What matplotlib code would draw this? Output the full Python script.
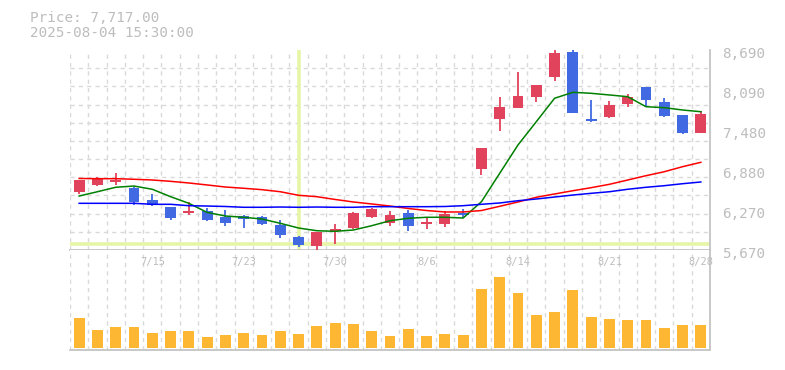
import matplotlib
matplotlib.use('Agg')
import matplotlib.pyplot as plt
import matplotlib.transforms as mtransforms
import numpy as np

# Data
dates = ['7/9', '7/10', '7/11', '7/14', '7/15', '7/16', '7/17', '7/18', '7/22', '7/23',
         '7/24', '7/25', '7/28', '7/29', '7/30', '7/31', '8/1', '8/4', '8/5', '8/6',
         '8/7', '8/8', '8/12', '8/13', '8/14', '8/15', '8/18', '8/19', '8/20', '8/21',
         '8/22', '8/25', '8/26', '8/27', '8/28']
opens = [6550, 6656, 6706, 6606, 6425, 6319, 6229, 6259, 6168, 6183,
         6168, 6048, 5866, 5730, 5957, 6002, 6168, 6078, 6229, 6063,
         6063, 6221, 6898, 7653, 7819, 7985, 8287, 8660, 7648, 7683,
         7875, 8131, 7905, 7708, 7437]
highs = [6727, 6772, 6833, 6626, 6516, 6319, 6390, 6300, 6274, 6199,
         6183, 6123, 5881, 5942, 6063, 6244, 6304, 6259, 6274, 6153,
         6259, 6289, 7210, 7980, 8358, 8162, 8690, 8690, 7935, 7920,
         8026, 8131, 7965, 7708, 7769]
lows = [6511, 6641, 6656, 6354, 6334, 6123, 6199, 6108, 6032, 6002,
        6048, 5856, 5720, 5670, 5761, 5987, 6153, 6032, 5957, 5987,
        6017, 6153, 6807, 7471, 7819, 7909, 8226, 7743, 7603, 7663,
        7829, 7829, 7678, 7422, 7437]
closes = [6727, 6757, 6716, 6395, 6354, 6153, 6259, 6123, 6078, 6138,
          6063, 5897, 5746, 5942, 5987, 6229, 6289, 6199, 6032, 6093,
          6214, 6206, 7210, 7829, 7995, 8162, 8645, 7743, 7618, 7860,
          7980, 7935, 7693, 7437, 7717]
volumes = [300, 180, 210, 210, 150, 170, 170, 110, 130, 150,
           130, 170, 140, 220, 250, 240, 170, 120, 190, 120,
           140, 130, 590, 710, 550, 330, 360, 580, 310, 290,
           280, 280, 200, 230, 230]
ma_short = [6485, 6550, 6617, 6636, 6587, 6475, 6375, 6238, 6183, 6164,
            6138, 6073, 6002, 5961, 5952, 5972, 6037, 6112, 6149, 6164,
            6164, 6153, 6399, 6828, 7256, 7607, 7961, 8051, 8036, 8011,
            7985, 7834, 7819, 7784, 7758]
ma_mid = [6750, 6747, 6747, 6738, 6727, 6707, 6682, 6652, 6621, 6602,
          6581, 6550, 6496, 6475, 6433, 6395, 6365, 6334, 6297, 6266,
          6244, 6244, 6266, 6330, 6395, 6466, 6516, 6565, 6611, 6662,
          6727, 6792, 6852, 6928, 6994]
ma_long = [6375, 6375, 6375, 6375, 6360, 6360, 6339, 6334, 6327, 6315,
           6315, 6319, 6315, 6319, 6315, 6315, 6324, 6324, 6324, 6324,
           6327, 6339, 6360, 6380, 6414, 6440, 6470, 6500, 6526, 6550,
           6587, 6617, 6641, 6671, 6697]
price_labels = ['5,670', '6,270', '6,880', '7,480', '8,090', '8,690']
price_min, price_max = 5670, 8690
label_every = 5
cursor_index = 12
cursor_price = 5760

# Colors
up_color = '#e2435c'
down_color = '#4169e1'
vol_color = '#fdb733'
text_color = '#bdbdbd'
grid_color = '#d9d9d9'
frame_color = '#c4c4c4'
cursor_color = '#e6f5a6'
mono = 'DejaVu Sans Mono'

# Set-Up
fig = plt.figure(figsize=(7.85, 3.70), dpi=100)
ax = fig.add_axes([70/785, 120/370, 640/785, 200/370])
vax = fig.add_axes([70/785, 20/370, 640/785, 100/370])

x = np.arange(len(dates))
o = np.array(opens)
c = np.array(closes)
up = c >= o
colors = np.where(up, up_color, down_color)

# Candles
ax.vlines(x, lows, highs, colors=colors, linewidth=1.3, zorder=3)
body_bottom = np.minimum(o, c)
body_height = np.maximum(np.abs(c - o), 22)
body_bottom = np.where(np.abs(c - o) < 22, (o + c) / 2 - 11, body_bottom)
ax.bar(x, body_height, bottom=body_bottom, width=0.6, color=colors, zorder=4)

# Moving averages
ax.plot(x, ma_short, color='#008000', linewidth=1.1, zorder=5)
ax.plot(x, ma_mid, color='#ff0000', linewidth=1.1, zorder=5)
ax.plot(x, ma_long, color='#0000ff', linewidth=1.1, zorder=5)

# Crosshair
ax.axvline(cursor_index, color=cursor_color, linewidth=2.6, zorder=2)
ax.axhline(cursor_price, color=cursor_color, linewidth=2.6, zorder=2)

# Volume
vax.bar(x, volumes, width=0.6, color=vol_color, zorder=3)

for a in (ax, vax):
    a.set_xlim(-0.5, len(dates) - 0.5)
    a.set_xticks(np.arange(-0.5, len(dates), 1), minor=True)
    a.set_xticks([])
    a.grid(which='minor', axis='x', color=grid_color, linestyle=(0, (3, 3)), linewidth=1)
    a.tick_params(which='both', length=0)
    a.set_axisbelow(True)
    a.spines['left'].set_visible(False)
    a.spines['top'].set_visible(False)
    a.spines['right'].set_color(frame_color)
    a.spines['bottom'].set_color(frame_color)
    a.spines['right'].set_linewidth(1.3)
    a.spines['bottom'].set_linewidth(1.3)

ax.set_ylim(price_min, price_max)
ax.set_yticks(np.linspace(price_min, price_max, 12), minor=True)
ax.grid(which='minor', axis='y', color=grid_color, linestyle=(0, (3, 3)), linewidth=1)
ax.yaxis.tick_right()
ax.set_yticks(np.linspace(price_min, price_max, len(price_labels)))
ax.set_yticklabels(price_labels, fontsize=10.3, family=mono, color=text_color)
ax.tick_params(axis='y', pad=9)
shift = mtransforms.ScaledTranslation(0, -3/100, fig.dpi_scale_trans)
for lab in ax.get_yticklabels():
    lab.set_transform(lab.get_transform() + shift)

vax.set_ylim(-20, 980)
vax.set_yticks([])

# Date labels inside the volume panel
trans = mtransforms.blended_transform_factory(vax.transData, vax.transAxes)
for i in range(label_every - 1, len(dates), label_every):
    vax.text(i, 0.88, dates[i], transform=trans, ha='center', va='center',
             fontsize=7.5, family=mono, color=text_color)

# Header
fig.text(30/785, 1 - 18/370, 'Price: 7,717.00', fontsize=10.3, family=mono,
         color=text_color, va='center')
fig.text(30/785, 1 - 33/370, '2025-08-04 15:30:00', fontsize=10.3, family=mono,
         color=text_color, va='center')

fig.savefig('out.png', dpi=100)
